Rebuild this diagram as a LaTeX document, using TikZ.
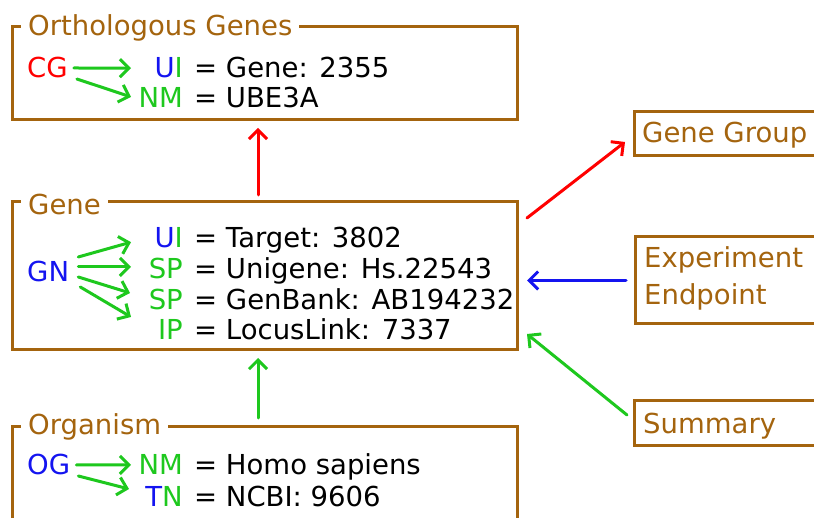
\documentclass[tikz,border=0pt]{standalone}
\usepackage{fontspec}
\setmainfont{DejaVu Sans}
\usetikzlibrary{arrows.meta}
\definecolor{boxbrown}{RGB}{164,100,14}
\definecolor{codegreen}{RGB}{30,200,30}
\definecolor{codeblue}{RGB}{20,20,240}
\definecolor{codered}{RGB}{255,0,0}
\begin{document}
\begin{tikzpicture}[x=1pt,y=-1pt,
  every node/.style={font=\fontsize{27.5}{31}\selectfont, inner sep=0pt},
  frame/.style={draw=boxbrown, line width=3pt, rectangle, outer sep=0pt},
  title/.style={text=boxbrown, fill=white, anchor=base west, inner xsep=7pt, inner ysep=2pt},
  boxlabel/.style={text=boxbrown, anchor=base west},
  code/.style={anchor=base east},
  val/.style={anchor=base west},
  conn/.style={line width=3pt, line cap=round, line join=round,
    -{Straight Barb[length=9pt,width=18pt]}},
  ]
\clip (0,0) rectangle (814,518);
\fill[white] (0,0) rectangle (814,518);

% frames
\node[frame, minimum width=505pt, minimum height=93pt]  (ortho)    at (264.5,73.5) {};
\node[frame, minimum width=505pt, minimum height=148pt] (gene)     at (264.5,276) {};
\node[frame, minimum width=505pt, minimum height=120pt] (organism) at (264.5,487) {};
\node[frame, minimum width=200pt, minimum height=44pt]  (ggbox)    at (734,134) {};
\node[frame, minimum width=200pt, minimum height=87pt]  (expbox)   at (735,280.5) {};
\node[frame, minimum width=200pt, minimum height=44pt]  (sumbox)   at (734,423) {};

% frame titles
\node[title] (orthotitle) at (21,36)  {Orthologous Genes};
\node[title] (genetitle)  at (21,215) {Gene};
\node[title] (orgtitle)   at (21,435) {Organism};

% right-hand boxes
\node[boxlabel] (gglabel)  at (642,143) {Gene Group};
\node[boxlabel] (explabel) at (644,268) {Experiment};
\node[boxlabel] (endlabel) at (644,305) {Endpoint};
\node[boxlabel] (sumlabel) at (643,433) {Summary};

\coordinate (tipcol) at (131,0);

% orthologous genes content
\node[anchor=base west, text=codered] (cg) at (27,78) {CG};
\node[code] (ui1) at (183,78) {\textcolor{codeblue}{U}\textcolor{codegreen}{I}};
\node[val]  (v1)  at (194,78) {= Gene: 2355};
\node[code, text=codegreen] (nm1) at (183,108) {NM};
\node[val]  (v2)  at (194,108) {= UBE3A};
\draw[conn, codegreen] ([xshift=6pt]cg.east) -- (ui1.west -| tipcol);
\draw[conn, codegreen] ([shift={(9,11)}]cg.east) -- ([shift={(0,-1)}]nm1.west -| tipcol);

% gene content
\node[anchor=base west, text=codeblue] (gn) at (27,282) {GN};
\node[code] (ui2) at (183,248) {\textcolor{codeblue}{U}\textcolor{codegreen}{I}};
\node[code, text=codegreen] (sp1) at (183,279) {SP};
\node[code, text=codegreen] (sp2) at (183,310) {SP};
\node[code, text=codegreen] (ip)  at (183,340) {IP};
\node[val] (v3) at (194,248) {= Target: 3802};
\node[val] (v4) at (194,279) {= Unigene: Hs.22543};
\node[val] (v5) at (194,310) {= GenBank: AB194232};
\node[val] (v6) at (194,340) {= LocusLink: 7337};
\draw[conn, codegreen] ([shift={(9,-15)}]gn.east) -- ([shift={(0,4)}]ui2.west -| tipcol);
\draw[conn, codegreen] ([shift={(9,-5)}]gn.east)  -- ([shift={(0,-2)}]sp1.west -| tipcol);
\draw[conn, codegreen] ([shift={(9,5)}]gn.east)   -- ([shift={(-1,-7)}]sp2.west -| tipcol);
\draw[conn, codegreen] ([shift={(11,15)}]gn.east) -- ([shift={(0,-13)}]ip.west -| tipcol);

% organism content
\node[anchor=base west, text=codeblue] (og) at (27,475) {OG};
\node[code, text=codegreen] (nm2) at (183,475) {NM};
\node[code] (tn) at (183,506) {\textcolor{codeblue}{T}\textcolor{codegreen}{N}};
\node[val] (v7) at (194,475) {= Homo sapiens};
\node[val] (v8) at (194,506) {= NCBI: 9606};
\draw[conn, codegreen] ([xshift=6pt]og.east) -- (nm2.west -| tipcol);
\draw[conn, codegreen] ([shift={(8,11)}]og.east) -- ([shift={(-2,-7)}]tn.west -| tipcol);

% links between frames
\draw[conn, codered]   ([shift={(-6.5,-7)}]gene.north) -- ([shift={(-6.5,8)}]ortho.south);
\draw[conn, codegreen] ([shift={(-6.5,-9)}]organism.north) -- ([shift={(-6.5,8)}]gene.south);
\draw[conn, codered]   ([shift={(10,16)}]gene.north east) -- ([shift={(-9,8)}]ggbox.west);
\draw[conn, codeblue]  ([xshift=-9pt]expbox.west) -- ([xshift=10pt]gene.east |- expbox.west);
\draw[conn, codegreen] ([shift={(-7,-8)}]sumbox.west) -- ([shift={(10,-16)}]gene.south east);
\end{tikzpicture}
\end{document}
